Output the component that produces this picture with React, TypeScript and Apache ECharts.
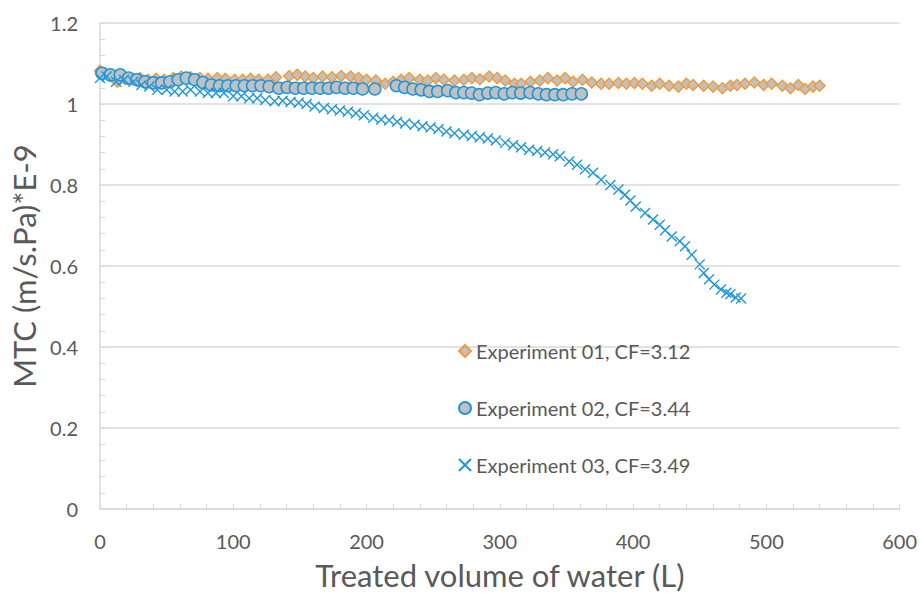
import React, { useEffect, useRef } from "react";
import * as echarts from "echarts";

const xTicks = [0, 100, 200, 300, 400, 500, 600];
const yTicks = [0, 0.2, 0.4, 0.6, 0.8, 1, 1.2];

const exp01Name = "Experiment 01, CF=3.12";
const exp01X = [0, 7, 13, 19, 25, 30, 36, 42, 48, 55, 61, 68, 75, 81, 88, 94, 101, 107, 113, 119, 126, 132, 142, 148, 154, 160, 167, 174, 181, 188, 194, 200, 207, 214, 220, 226, 232, 240, 246, 252, 258, 266, 273, 279, 285, 292, 298, 304, 311, 316, 323, 330, 336, 343, 349, 355, 362, 369, 376, 382, 389, 395, 401, 407, 414, 420, 427, 434, 440, 445, 453, 460, 467, 473, 478, 484, 491, 498, 504, 512, 518, 524, 529, 535, 540];
const exp01Y = [1.082, 1.07, 1.055, 1.062, 1.062, 1.064, 1.06, 1.062, 1.06, 1.064, 1.068, 1.066, 1.064, 1.062, 1.064, 1.062, 1.06, 1.06, 1.062, 1.06, 1.06, 1.066, 1.069, 1.072, 1.068, 1.064, 1.068, 1.066, 1.069, 1.068, 1.064, 1.06, 1.058, 1.05, 1.055, 1.06, 1.064, 1.06, 1.058, 1.064, 1.06, 1.058, 1.06, 1.064, 1.061, 1.068, 1.064, 1.058, 1.05, 1.05, 1.055, 1.058, 1.064, 1.058, 1.064, 1.055, 1.06, 1.053, 1.05, 1.05, 1.052, 1.05, 1.052, 1.05, 1.045, 1.05, 1.045, 1.043, 1.05, 1.047, 1.045, 1.043, 1.039, 1.045, 1.047, 1.05, 1.053, 1.047, 1.05, 1.045, 1.039, 1.047, 1.037, 1.043, 1.045];

const exp02Name = "Experiment 02, CF=3.44";
const exp02X = [1.5, 7.7, 15.2, 21.4, 27.6, 33.8, 40, 46.2, 52.4, 58.6, 64.8, 71, 77.2, 83.5, 89.7, 95.9, 102.1, 108.3, 114.5, 120.7, 126.9, 134.2, 140.4, 146.6, 152.8, 159, 165.2, 171.4, 177.6, 183.9, 190.1, 197, 206.2, 222.4, 228.6, 234.8, 241, 247.2, 253.4, 260.9, 267, 273, 278.8, 284.7, 291, 297, 303.3, 309.5, 315.7, 322.7, 328.9, 335, 341.3, 347.5, 354.2, 361.2];
const exp02Y = [1.076, 1.072, 1.072, 1.064, 1.06, 1.055, 1.052, 1.052, 1.055, 1.06, 1.064, 1.06, 1.053, 1.047, 1.045, 1.045, 1.045, 1.045, 1.045, 1.045, 1.043, 1.039, 1.041, 1.039, 1.039, 1.039, 1.039, 1.039, 1.041, 1.039, 1.039, 1.037, 1.037, 1.045, 1.041, 1.037, 1.035, 1.031, 1.031, 1.033, 1.028, 1.028, 1.027, 1.023, 1.027, 1.028, 1.025, 1.028, 1.027, 1.028, 1.025, 1.023, 1.023, 1.023, 1.025, 1.025];

const exp03Name = "Experiment 03, CF=3.49";
const exp03X = [0, 5, 12, 18, 25, 31, 37, 43, 50, 56, 62, 68, 75, 81, 87, 93, 100, 106, 112, 118, 124, 131, 137, 143, 149, 155, 161, 168, 174, 180, 186, 192, 198, 205, 211, 217, 223, 229, 236, 242, 248, 254, 260, 266, 273, 279, 285, 291, 297, 304, 310, 316, 322, 328, 334, 340, 345, 352, 358, 364, 370, 376, 383, 389, 394, 398, 402, 409, 415, 420, 424, 429, 435, 439, 444, 450, 453, 457, 461, 466, 470, 473, 477, 481];
const exp03Y = [1.064, 1.068, 1.055, 1.06, 1.055, 1.047, 1.043, 1.035, 1.035, 1.031, 1.031, 1.035, 1.031, 1.027, 1.027, 1.027, 1.019, 1.019, 1.014, 1.014, 1.01, 1.007, 1.008, 1.005, 1.003, 1.0, 0.994, 0.99, 0.987, 0.984, 0.981, 0.977, 0.972, 0.966, 0.962, 0.96, 0.956, 0.952, 0.949, 0.945, 0.942, 0.938, 0.932, 0.928, 0.924, 0.921, 0.918, 0.915, 0.91, 0.904, 0.899, 0.893, 0.887, 0.884, 0.88, 0.876, 0.871, 0.858, 0.85, 0.839, 0.83, 0.813, 0.8, 0.789, 0.776, 0.762, 0.747, 0.731, 0.715, 0.702, 0.688, 0.673, 0.661, 0.649, 0.628, 0.604, 0.583, 0.567, 0.554, 0.542, 0.534, 0.53, 0.522, 0.52];

const TEXT = "#595959";
const LINE = "#D9D9D9";
const ORANGE = "#F39A3B";
const GRAY = "#C0C0C0";
const BLUE = "#1E96DC";
const FONT = "Lato";

const pairs = (xs: number[], ys: number[]) => xs.map((x, i) => [x, ys[i]]);

export default function App() {
  const ref = useRef<HTMLDivElement>(null);
  useEffect(() => {
    if (!ref.current) return;
    const chart = echarts.init(ref.current, undefined, { renderer: "svg" });
    chart.setOption({
      animation: false,
      backgroundColor: "#ffffff",
      textStyle: { fontFamily: FONT },
      grid: { left: 100, right: 15, top: 23, bottom: 85 },
      legend: {
        orient: "vertical",
        left: 453,
        top: 336,
        itemGap: 37,
        itemWidth: 12,
        itemHeight: 12,
        textStyle: { color: TEXT, fontSize: 20, fontFamily: FONT },
        data: [exp01Name, exp02Name, exp03Name],
      },
      xAxis: {
        type: "value",
        min: xTicks[0],
        max: xTicks[xTicks.length - 1],
        interval: 100,
        name: "Treated volume of water (L)",
        nameLocation: "middle",
        nameGap: 50,
        nameTextStyle: { color: TEXT, fontSize: 31, fontFamily: FONT },
        axisLine: { show: true, lineStyle: { color: LINE, width: 1.5 } },
        axisTick: { show: true, inside: true, length: 5, lineStyle: { color: LINE } },
        minorTick: { show: true, splitNumber: 5, length: 5, lineStyle: { color: LINE } },
        splitLine: { show: false },
        axisLabel: { color: TEXT, fontSize: 20, margin: 22, fontFamily: FONT },
      },
      yAxis: {
        type: "value",
        min: yTicks[0],
        max: yTicks[yTicks.length - 1],
        interval: 0.2,
        name: "MTC (m/s.Pa)*E-9",
        nameLocation: "middle",
        nameGap: 58,
        nameTextStyle: { color: TEXT, fontSize: 31, fontFamily: FONT },
        axisLine: { show: true, lineStyle: { color: LINE, width: 1.5 } },
        axisTick: { show: true, inside: true, length: 5, lineStyle: { color: LINE } },
        minorTick: { show: true, splitNumber: 5, length: 5, lineStyle: { color: LINE } },
        splitLine: { show: true, lineStyle: { color: LINE, width: 1.5 } },
        axisLabel: { color: TEXT, fontSize: 20, margin: 22, fontFamily: FONT },
      },
      series: [
        {
          name: exp01Name,
          type: "scatter",
          symbol: "diamond",
          symbolSize: 11,
          itemStyle: { color: GRAY, borderColor: ORANGE, borderWidth: 1.5, opacity: 1 },
          data: pairs(exp01X, exp01Y),
          z: 2,
        },
        {
          name: exp02Name,
          type: "scatter",
          symbol: "circle",
          symbolSize: 12,
          itemStyle: { color: GRAY, borderColor: BLUE, borderWidth: 1.5, opacity: 1 },
          data: pairs(exp02X, exp02Y),
          z: 3,
        },
        {
          name: exp03Name,
          type: "scatter",
          symbol: "path://M0 0L10 10M10 0L0 10",
          symbolSize: 10,
          itemStyle: { color: BLUE, borderColor: BLUE, borderWidth: 1.4, opacity: 1 },
          data: pairs(exp03X, exp03Y),
          z: 4,
        },
      ],
    });
    return () => chart.dispose();
  }, []);
  return (
    <div
      ref={ref}
      style={{ position: "fixed", left: 0, top: 0, width: 920, height: 595, background: "#fff" }}
    />
  );
}
